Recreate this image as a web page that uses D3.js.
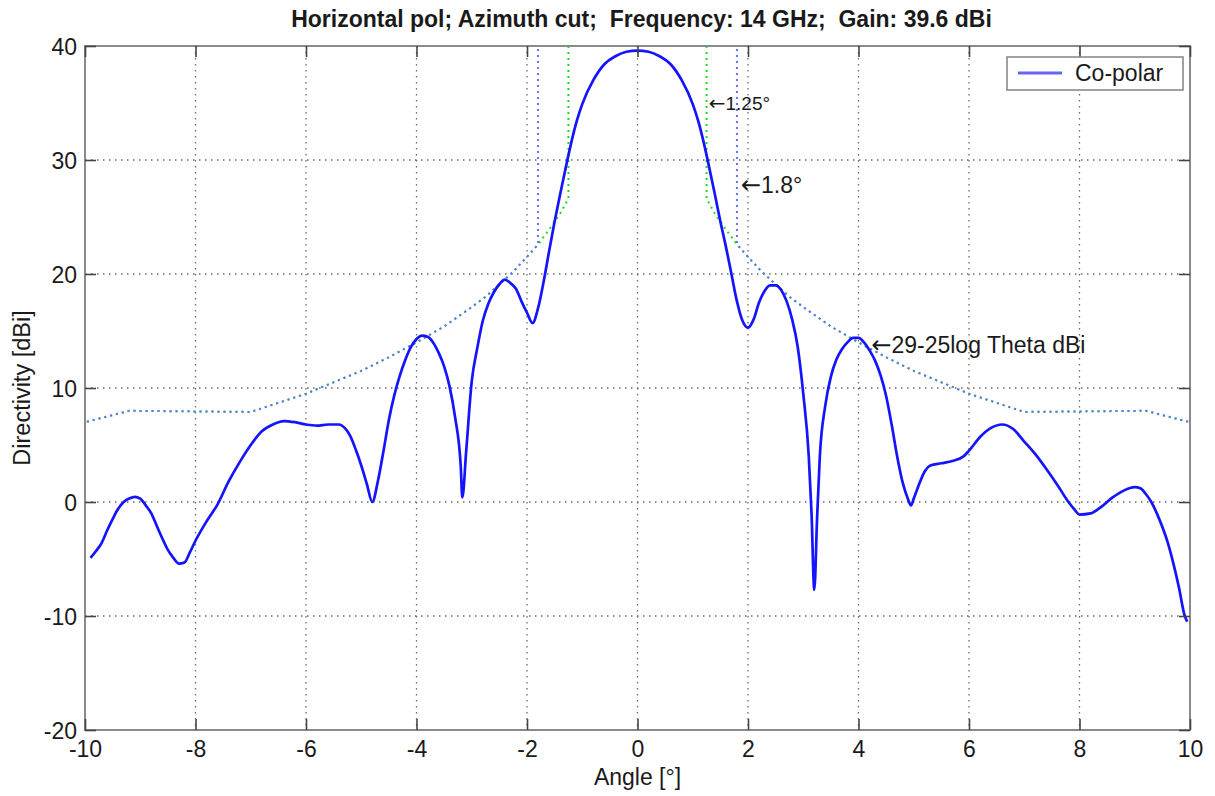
<!DOCTYPE html>
<html>
<head>
<meta charset="utf-8">
<script src="https://cdn.jsdelivr.net/npm/d3@7"></script>
<style>
  html, body { margin: 0; padding: 0; background: #fff; }
  svg { display: block; font-family: "Liberation Sans", Arial, sans-serif; }
  text { white-space: pre; }
</style>
</head>
<body>
<svg id="chart" width="1215" height="796"></svg>
<script>
// ---------------- DATA ----------------
const titleText = "Horizontal pol; Azimuth cut;  Frequency: 14 GHz;  Gain: 39.6 dBi";
const xLabel = "Angle [°]";
const yLabel = "Directivity [dBi]";
const legendLabels = ["Co-polar"];

const xTicks = [-10, -8, -6, -4, -2, 0, 2, 4, 6, 8, 10];
const yTicks = [-20, -10, 0, 10, 20, 30, 40];

// Co-polar directivity pattern (angle in degrees, directivity in dBi)
const angles = [
  -9.9, -9.8, -9.7, -9.6, -9.5, -9.4, -9.3, -9.2, -9.1, -9.0,
  -8.9, -8.8, -8.7, -8.6, -8.5, -8.4, -8.3, -8.2, -8.1, -8.0,
  -7.8, -7.6, -7.4, -7.2, -7.0, -6.8, -6.6, -6.4, -6.2, -6.0,
  -5.8, -5.6, -5.4, -5.3, -5.2, -5.1, -5.0, -4.9, -4.8, -4.7,
  -4.6, -4.5, -4.4, -4.3, -4.2, -4.1, -4.0, -3.9, -3.8, -3.7,
  -3.6, -3.5, -3.4, -3.3, -3.2, -3.17, -3.1, -3.0, -2.9, -2.8,
  -2.7, -2.6, -2.5, -2.4, -2.3, -2.2, -2.1, -2.0, -1.9, -1.8,
  -1.7, -1.6, -1.5, -1.4, -1.3, -1.2, -1.1, -1.0, -0.8, -0.6,
  -0.4, -0.2, 0.0, 0.2, 0.4, 0.6, 0.8, 1.0, 1.1, 1.2,
  1.3, 1.4, 1.5, 1.6, 1.7, 1.8, 1.9, 2.0, 2.1, 2.2,
  2.3, 2.4, 2.5, 2.6, 2.7, 2.8, 2.9, 3.0, 3.1, 3.15,
  3.2, 3.25, 3.3, 3.4, 3.5, 3.6, 3.7, 3.8, 3.9, 4.0,
  4.1, 4.2, 4.3, 4.4, 4.5, 4.6, 4.7, 4.8, 4.9, 4.95,
  5.0, 5.1, 5.2, 5.3, 5.5, 5.7, 5.9, 6.0, 6.2, 6.4,
  6.6, 6.8, 7.0, 7.2, 7.4, 7.6, 7.8, 7.9, 8.0, 8.2,
  8.4, 8.6, 8.8, 9.0, 9.1, 9.2, 9.3, 9.4, 9.5, 9.6,
  9.7, 9.8, 9.9, 9.95
];
const coPolar = [
  -4.9, -4.3, -3.6, -2.5, -1.5, -0.6, 0.0, 0.3, 0.45, 0.3,
  -0.3, -1.0, -2.1, -3.2, -4.2, -4.9, -5.4, -5.3, -4.4, -3.4,
  -1.7, -0.2, 1.8, 3.5, 5.0, 6.2, 6.8, 7.1, 7.0, 6.8,
  6.7, 6.8, 6.8, 6.5, 5.8, 4.6, 3.2, 1.6, 0.0, 1.8,
  4.4, 7.2, 9.4, 11.1, 12.5, 13.6, 14.3, 14.6, 14.5, 14.0,
  13.1, 11.9, 10.1, 7.4, 3.2, 0.4, 4.5, 10.6, 13.5, 15.9,
  17.4, 18.4, 19.1, 19.5, 19.2, 18.7, 17.6, 16.6, 15.7, 17.0,
  19.3, 22.0, 24.6, 27.0, 29.3, 31.5, 33.4, 34.9, 37.0, 38.4,
  39.1, 39.5, 39.6, 39.5, 39.1, 38.4, 37.0, 34.9, 33.4, 31.5,
  29.3, 27.0, 24.6, 22.4, 20.0, 17.6, 15.9, 15.3, 16.0, 17.5,
  18.5, 19.0, 19.0, 18.6, 17.6, 16.0, 13.6, 9.5, 4.0, -1.0,
  -7.7, -1.5, 4.0, 8.5, 11.0, 12.5, 13.4, 14.0, 14.4, 14.4,
  14.0, 13.3, 12.4, 11.1, 9.3, 6.8, 4.0, 1.7, 0.2, -0.3,
  0.3, 1.6, 2.7, 3.2, 3.4, 3.6, 4.0, 4.5, 5.7, 6.5,
  6.8, 6.4, 5.3, 4.2, 2.9, 1.5, 0.0, -0.6, -1.1, -1.0,
  -0.4, 0.4, 1.0, 1.3, 1.2, 0.7, 0.0, -1.0, -2.2, -3.6,
  -5.4, -7.5, -9.9, -10.5
];

// Side-lobe envelope "29-25log Theta dBi" (|angle| in degrees, dBi)
const envelopeAngles = [1.25, 1.4, 1.6, 1.8, 2.0, 2.25, 2.5, 2.75, 3.0, 3.5, 4.0, 4.5, 5.0, 5.5, 6.0, 6.5, 7.0, 9.2, 10.0];
const envelopeValues = [26.6, 25.3, 23.9, 22.6, 21.5, 20.2, 19.1, 18.0, 17.1, 15.4, 14.0, 12.7, 11.5, 10.5, 9.5, 8.7, 7.9, 8.0, 7.0];
const envelopeCutoffs = [1.25, 1.8];   // green, blue beamwidth markers
const envelopeTop = 40;

// Annotations: anchor angle, anchor dBi, text
const annotationAngles = [1.29, 1.87, 4.23];
const annotationValues = [34.4, 27.1, 13.1];
const annotationTexts = ["1.25°", "1.8°", "29-25log Theta dBi"];

// ---------------- LAYOUT ----------------
const svg = d3.select("#chart");
const margin = { left: 85, right: 1190, top: 46, bottom: 730 };
const x = d3.scaleLinear().domain([-10, 10]).range([margin.left, margin.right]);
const y = d3.scaleLinear().domain([-20, 40]).range([margin.bottom, margin.top]);

const fontSize = 23;
const textColor = "#1a1a1a";

// clip
svg.append("defs").append("clipPath").attr("id", "plotClip")
  .append("rect").attr("x", margin.left).attr("y", margin.top)
  .attr("width", margin.right - margin.left).attr("height", margin.bottom - margin.top);

// grid
const grid = svg.append("g").attr("class", "grid");
grid.selectAll("line.vx").data(xTicks.filter(t => t > -10 && t < 10)).enter().append("line")
  .attr("x1", d => x(d)).attr("x2", d => x(d))
  .attr("y1", margin.top).attr("y2", margin.bottom)
  .attr("stroke", "#6a6a6a").attr("stroke-width", 1.3).attr("stroke-dasharray", "1.5,4.5");
grid.selectAll("line.hy").data(yTicks.filter(t => t > -20 && t < 40)).enter().append("line")
  .attr("y1", d => y(d)).attr("y2", d => y(d))
  .attr("x1", margin.left).attr("x2", margin.right)
  .attr("stroke", "#6a6a6a").attr("stroke-width", 1.3).attr("stroke-dasharray", "1.5,4.5");

// envelopes
const plot = svg.append("g").attr("clip-path", "url(#plotClip)");
const envLine = d3.line().x(d => x(d[0])).y(d => y(d[1]));
const envColors = ["#22d822", "#6272ff"];
envelopeCutoffs.forEach((c, i) => {
  const pts = envelopeAngles.map((a, k) => [a, envelopeValues[k]]).filter(p => p[0] >= c);
  const right = [[c, envelopeTop]].concat(pts);
  const left = right.map(p => [-p[0], p[1]]);
  [left, right].forEach(side => {
    plot.append("path")
      .attr("d", envLine(side))
      .attr("fill", "none")
      .attr("stroke", envColors[i])
      .attr("stroke-width", 2)
      .attr("stroke-dasharray", "2,4")
      .attr("stroke-dashoffset", i * 3);
  });
});

// co-polar curve
const data = angles.map((a, i) => [a, coPolar[i]]);
const line = d3.line().x(d => x(d[0])).y(d => y(d[1])).curve(d3.curveMonotoneX);
plot.append("path")
  .attr("d", line(data))
  .attr("fill", "none")
  .attr("stroke", "#1414ff")
  .attr("stroke-width", 2.7)
  .attr("stroke-linejoin", "round");

// frame
svg.append("rect")
  .attr("x", margin.left).attr("y", margin.top)
  .attr("width", margin.right - margin.left).attr("height", margin.bottom - margin.top)
  .attr("fill", "none").attr("stroke", "#8a8a8a").attr("stroke-width", 2);

// axes with inward ticks (bottom, top, left, right)
const tickLen = 11;
const fmt = d => String(d);
const axBottom = d3.axisBottom(x).tickValues(xTicks).tickSize(-tickLen).tickFormat(fmt);
const axTop = d3.axisTop(x).tickValues(xTicks).tickSize(-tickLen).tickFormat("");
const axLeft = d3.axisLeft(y).tickValues(yTicks).tickSize(-tickLen).tickFormat(fmt);
const axRight = d3.axisRight(y).tickValues(yTicks).tickSize(-tickLen).tickFormat("");

function styleAxis(g) {
  g.select(".domain").remove();
  g.selectAll(".tick line").attr("stroke", "#444").attr("stroke-width", 1.6);
  g.selectAll(".tick text").attr("fill", textColor).attr("font-size", fontSize)
    .attr("font-family", "Liberation Sans, Arial, sans-serif");
}
svg.append("g").attr("transform", `translate(0,${margin.bottom})`).call(axBottom).call(styleAxis)
  .selectAll(".tick text").attr("dy", null).attr("y", 27);
svg.append("g").attr("transform", `translate(0,${margin.top})`).call(axTop).call(styleAxis);
svg.append("g").attr("transform", `translate(${margin.left},0)`).call(axLeft).call(styleAxis)
  .selectAll(".tick text").attr("x", -8).attr("dy", null).attr("y", 8);
svg.append("g").attr("transform", `translate(${margin.right},0)`).call(axRight).call(styleAxis);

// title
svg.append("text")
  .attr("x", (margin.left + margin.right) / 2 + 4).attr("y", 27)
  .attr("text-anchor", "middle").attr("font-size", fontSize).attr("font-weight", "bold")
  .attr("fill", textColor).text(titleText);

// axis labels
svg.append("text")
  .attr("x", (margin.left + margin.right) / 2).attr("y", 785)
  .attr("text-anchor", "middle").attr("font-size", fontSize).attr("fill", textColor)
  .text(xLabel);
svg.append("text")
  .attr("transform", `translate(30,${(margin.top + margin.bottom) / 2}) rotate(-90)`)
  .attr("text-anchor", "middle").attr("font-size", 23.5).attr("fill", textColor)
  .text(yLabel);

// annotations (leftarrow + text)
annotationTexts.forEach((t, i) => {
  const fs = i === 0 ? 19 : fontSize;
  const tx = svg.append("text")
    .attr("x", x(annotationAngles[i])).attr("y", y(annotationValues[i]))
    .attr("font-size", fs).attr("fill", textColor);
  tx.append("tspan").attr("font-family", "DejaVu Sans").attr("font-size", fs * 1.05).text("\u2190");
  tx.append("tspan").text(t);
});

// legend
const lg = svg.append("g");
lg.append("rect").attr("x", 1007).attr("y", 57).attr("width", 176).attr("height", 33)
  .attr("fill", "#fff").attr("stroke", "#8a8a8a").attr("stroke-width", 1.6);
lg.append("line").attr("x1", 1018).attr("x2", 1062).attr("y1", 73).attr("y2", 73)
  .attr("stroke", "#6464f5").attr("stroke-width", 3);
lg.append("text").attr("x", 1075).attr("y", 81).attr("font-size", fontSize).attr("fill", textColor)
  .text(legendLabels[0]);
</script>
</body>
</html>
